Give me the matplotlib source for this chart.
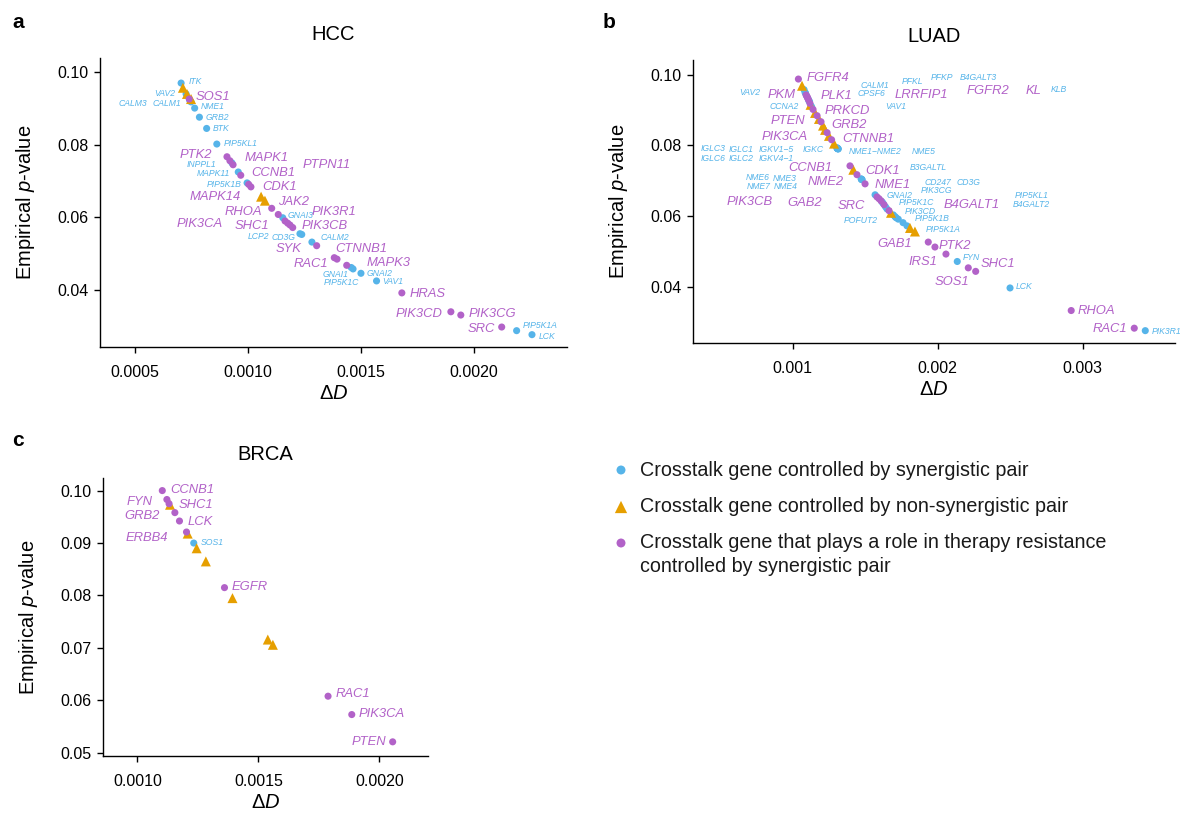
import matplotlib
matplotlib.use("Agg")
import matplotlib.pyplot as plt

plt.rcParams['font.family'] = ['Liberation Sans', 'DejaVu Sans']
plt.rcParams['mathtext.fontset'] = 'custom'
plt.rcParams['mathtext.rm'] = 'Liberation Sans'
plt.rcParams['mathtext.it'] = 'Liberation Sans:italic'

BLUE = '#56B4E9'
ORANGE = '#E69F00'
PURPLE = '#B262C8'

# ---------------- HCC ----------------
HCC_genes = ['ITK', 'VAV2', '', '', '', 'SOS1', 'CALM1', 'CALM3', 'NME1', 'GRB2', 'BTK', 'PIP5KL1',
             'PTK2', 'MAPK1', 'INPPL1', 'PTPN11', 'MAPK11', 'CCNB1', 'PIP5K1B', 'CDK1', 'MAPK14',
             '', '', 'JAK2', 'RHOA', 'GNAI3', 'PIK3R1', 'SHC1', 'PIK3CA', 'PIK3CB', 'LCP2', 'CD3G',
             'CALM2', 'SYK', 'CTNNB1', 'RAC1', 'MAPK3', 'GNAI1', 'PIP5K1C', 'GNAI2', 'VAV1', 'HRAS',
             'PIK3CD', 'PIK3CG', 'SRC', 'PIP5K1A', 'LCK']
HCC_dD = [0.000704, 0.000726, 0.000712, 0.000730, 0.000748, 0.000740, 0.000743, 0.000748, 0.000764,
          0.000785, 0.000817, 0.000862, 0.000907, 0.000920, 0.000929, 0.000934, 0.000957, 0.000968,
          0.000996, 0.001003, 0.001013, 0.001058, 0.001075, 0.001105, 0.001134, 0.001154, 0.001164,
          0.001176, 0.001186, 0.001198, 0.001230, 0.001238, 0.001283, 0.001304, 0.001382, 0.001394,
          0.001437, 0.001457, 0.001465, 0.001500, 0.001569, 0.001681, 0.001898, 0.001942, 0.002123,
          0.002189, 0.002257]
HCC_p = [0.0970, 0.0940, 0.0957, 0.0940, 0.0926, 0.0926, 0.0921, 0.0918, 0.0901, 0.0876, 0.0845,
         0.0802, 0.0767, 0.0756, 0.0750, 0.0745, 0.0725, 0.0716, 0.0695, 0.0691, 0.0684, 0.0657,
         0.0646, 0.0625, 0.0608, 0.0599, 0.0590, 0.0584, 0.0579, 0.0572, 0.0555, 0.0553, 0.0532,
         0.0522, 0.0489, 0.0485, 0.0468, 0.0462, 0.0458, 0.0446, 0.0425, 0.0392, 0.0340, 0.0331,
         0.0298, 0.0288, 0.0277]
HCC_type = ['syn', 'syn', 'non', 'non', 'non', 'res', 'syn', 'syn', 'syn', 'syn', 'syn', 'syn',
            'res', 'res', 'syn', 'res', 'syn', 'res', 'syn', 'res', 'res', 'non', 'non', 'res',
            'res', 'syn', 'res', 'res', 'res', 'res', 'syn', 'syn', 'syn', 'res', 'res', 'res',
            'res', 'syn', 'syn', 'syn', 'syn', 'res', 'res', 'res', 'res', 'syn', 'syn']

# label offsets in pixels (dx right, dy down)
HCC_lab = {'ITK': (14, -1.6), 'SOS1': (24, -2), 'VAV2': (-21.7, 0), 'CALM1': (-23.3, 2.7),
           'CALM3': (-58.3, 1.7), 'NME1': (17.6, -1.3), 'GRB2': (18, 0), 'BTK': (14, 0),
           'PIP5KL1': (23.6, -1), 'PTK2': (-31, -1.3), 'MAPK1': (36.7, -2.3), 'INPPL1': (-30.3, 1.3),
           'PTPN11': (93.7, 0), 'MAPK11': (-25, 1.7), 'CCNB1': (32.6, -2.6), 'PIP5K1B': (-23, 1.7),
           'CDK1': (31.3, 2.4), 'MAPK14': (-36, 9.7), 'JAK2': (21.6, -6), 'RHOA': (-35, -2.7),
           'GNAI3': (17.3, -2), 'PIK3R1': (49, -9.3), 'SHC1': (-36, 2.7), 'PIK3CA': (-90, -0.7),
           'PIK3CB': (32.3, -1.7), 'LCP2': (-41.7, 2.3), 'CD3G': (-18.4, 2.6), 'CALM2': (23, -4.7),
           'SYK': (-28.4, 3.6), 'CTNNB1': (27.4, -8.4), 'RAC1': (-26, 5), 'MAPK3': (41.6, -2),
           'GNAI1': (-15.3, 7.3), 'PIP5K1C': (-11.3, 13.7), 'GNAI2': (19, 0.7), 'VAV1': (16.2, 0.7),
           'HRAS': (25.3, 1), 'PIK3CD': (-31.7, 2), 'PIK3CG': (31.7, -0.7), 'SRC': (-20, 2),
           'PIP5K1A': (23.3, -5), 'LCK': (14.7, 2.3)}

# ---------------- LUAD ----------------
LUAD_genes = ['FGFR4', '', 'VAV2', 'CALM1', 'PFKL', 'PKM', 'PFKP', 'FGFR2', 'KL', 'KLB', 'PLK1',
              'B4GALT3', 'CPSF6', 'LRRFIP1', '', 'CCNA2', 'VAV1', 'PRKCD', '', 'PTEN', '', 'GRB2',
              '', '', 'PIK3CA', '', 'CTNNB1', '',
              'IGLC3', 'IGLC1', 'IGKV1\u22125', 'IGKC', 'IGLC6', 'IGLC2', 'IGKV4\u22121',
              'NME1\u2212NME2', 'NME5',
              'CCNB1', '', 'CDK1', 'NME6', 'NME3', 'NME7', 'NME4', 'B3GALTL', 'NME2',
              'GNAI2', 'PIK3CB', 'NME1', 'GAB2', 'CD247', 'CD3G', 'SRC', 'PIK3CG', 'PIP5K1C',
              'B4GALT1', '', 'PIK3CD', 'PIP5KL1', 'B4GALT2', 'POFUT2', 'PIP5K1B', 'PIP5K1A', '', '',
              'GAB1', 'PTK2', 'IRS1', 'FYN', 'SOS1', 'SHC1', 'LCK', 'RHOA', 'RAC1', 'PIK3R1']
LUAD_dD = [0.001039, 0.001064, 0.001078, 0.001085, 0.001088, 0.001092, 0.001095, 0.001099, 0.001102,
           0.001106, 0.001109, 0.001112, 0.001116, 0.001119, 0.001123, 0.001126, 0.001130, 0.001140,
           0.001154, 0.001168, 0.001181, 0.001195, 0.001209, 0.001223, 0.001237, 0.001250, 0.001268,
           0.001285,
           0.001305, 0.001307, 0.001309, 0.001311, 0.001306, 0.001308, 0.001310, 0.001312, 0.001314,
           0.001395, 0.001418, 0.001443, 0.001472, 0.001474, 0.001475, 0.001477, 0.001478, 0.001499,
           0.001568, 0.001581, 0.001595, 0.001609, 0.001616, 0.001623, 0.001630, 0.001640, 0.001650,
           0.001664, 0.001678, 0.001694, 0.001706, 0.001713, 0.001728, 0.001761, 0.001788, 0.001809,
           0.001843, 0.001935, 0.001981, 0.002057, 0.002135, 0.002211, 0.002262, 0.002499, 0.002921,
           0.003356, 0.003432]
LUAD_p = [0.0988, 0.0969, 0.0958, 0.0950, 0.0948, 0.0943, 0.0941, 0.0938, 0.0935, 0.0932, 0.0929,
          0.0926, 0.0924, 0.0919, 0.0915, 0.0912, 0.0909, 0.0902, 0.0892, 0.0884, 0.0875, 0.0867,
          0.0856, 0.0844, 0.0836, 0.0827, 0.0816, 0.0805,
          0.0793, 0.0792, 0.0792, 0.0791, 0.0792, 0.0791, 0.0791, 0.0790, 0.0790,
          0.0742, 0.0731, 0.0717, 0.0705, 0.0704, 0.0704, 0.0703, 0.0703, 0.0691,
          0.0660, 0.0654, 0.0649, 0.0643, 0.0640, 0.0636, 0.0632, 0.0626, 0.0620, 0.0615, 0.0609,
          0.0603, 0.0598, 0.0595, 0.0591, 0.0581, 0.0572, 0.0566, 0.0556, 0.0526, 0.0512, 0.0492,
          0.0471, 0.0453, 0.0443, 0.0396, 0.0332, 0.0282, 0.0275]
LUAD_type = ['res', 'non', 'syn', 'syn', 'syn', 'res', 'syn', 'res', 'res', 'syn', 'res',
             'syn', 'syn', 'res', 'non', 'syn', 'syn', 'res', 'non', 'res', 'non', 'res',
             'non', 'non', 'res', 'non', 'res', 'non',
             'syn', 'syn', 'syn', 'syn', 'syn', 'syn', 'syn', 'syn', 'syn',
             'res', 'non', 'res', 'syn', 'syn', 'syn', 'syn', 'syn', 'res',
             'syn', 'res', 'res', 'res', 'syn', 'syn', 'res', 'syn', 'syn',
             'res', 'non', 'syn', 'syn', 'syn', 'syn', 'syn', 'syn', 'non', 'non',
             'res', 'res', 'res', 'syn', 'res', 'res', 'syn', 'res', 'res', 'syn']
LUAD_lab = {'FGFR4': (30, -1), 'VAV2': (-54, 2.7), 'CALM1': (70, -6.8), 'PFKL': (107.2, -12),
            'PKM': (-24.3, 0), 'PFKP': (135.2, -17.7), 'FGFR2': (181.3, -6), 'KL': (225.8, -7),
            'KLB': (251, -9.7), 'PLK1': (28.2, -4), 'B4GALT3': (169.3, -23.7), 'CPSF6': (62.2, -7.7),
            'LRRFIP1': (111.7, -8.5), 'CCNA2': (-26.7, 0.7), 'VAV1': (84.5, -0.3),
            'PRKCD': (34.7, 1.2), 'PTEN': (-28.7, 5), 'GRB2': (28, 3), 'PIK3CA': (-42.7, 4.3),
            'CTNNB1': (36.2, -0.7), 'IGLC3': (-124.2, 0.8), 'IGLC1': (-95.8, 0.8),
            'IGKV1\u22125': (-61.5, 0.8), 'IGKC': (-24.8, 0.8), 'IGLC6': (-124.2, 9.8),
            'IGLC2': (-95.8, 9.8), 'IGKV4\u22121': (-61.5, 9.8), 'NME1\u2212NME2': (37.5, 2.2),
            'NME5': (85.2, 2.2), 'CCNB1': (-39.3, 2.3), 'CDK1': (26, -3.7), 'NME6': (-103.2, -1.2),
            'NME3': (-76.5, -1.2), 'NME7': (-103.2, 7.2), 'NME4': (-76.5, 7.2),
            'B3GALTL': (66, -12), 'NME2': (-39, -1.7), 'GNAI2': (24, 0.3), 'PIK3CB': (-127.7, 4.7),
            'NME1': (14, -13.7), 'GAB2': (-76, 2.3), 'CD247': (56.3, -19.2), 'CD3G': (85.3, -20.7),
            'SRC': (-33, 1), 'PIK3CG': (51.2, -16), 'PIP5K1C': (29.7, -6.2), 'B4GALT1': (82.7, -6),
            'PIK3CD': (26.7, -3.6), 'PIP5KL1': (136.7, -21), 'B4GALT2': (135.7, -13),
            'POFUT2': (-37.6, 1), 'PIP5K1B': (28.7, -3.7), 'PIP5K1A': (36.3, 3.3),
            'GAB1': (-33.3, 2), 'PTK2': (20, -1.3), 'IRS1': (-22.7, 8), 'FYN': (14.4, -4.4),
            'SOS1': (-16.6, 14.3), 'SHC1': (22.6, -7.4), 'LCK': (14.3, -1.3), 'RHOA': (25.4, 0),
            'RAC1': (-24.3, 1), 'PIK3R1': (21.4, 1.3)}

# ---------------- BRCA ----------------
BRCA_genes = ['CCNB1', 'FYN', 'SHC1', '', 'GRB2', 'LCK', 'ERBB4', '', 'SOS1', '', '', 'EGFR', '',
              '', '', 'RAC1', 'PIK3CA', 'PTEN']
BRCA_dD = [0.001103, 0.001122, 0.001131, 0.001135, 0.001155, 0.001174, 0.001203, 0.001208, 0.001233,
           0.001245, 0.001283, 0.001360, 0.001393, 0.001539, 0.001560, 0.001788, 0.001886, 0.002055]
BRCA_p = [0.1000, 0.0983, 0.0975, 0.0973, 0.0958, 0.0942, 0.0921, 0.0918, 0.0900, 0.0890, 0.0865,
          0.0815, 0.0795, 0.0716, 0.0706, 0.0608, 0.0573, 0.0521]
BRCA_type = ['res', 'res', 'res', 'non', 'res', 'res', 'res', 'non', 'syn', 'non', 'non', 'res',
             'non', 'non', 'non', 'res', 'res', 'res']
BRCA_lab = {'CCNB1': (30, -0.7), 'FYN': (-27.4, 2.7), 'SHC1': (27, 1), 'GRB2': (-33, 3.7),
            'LCK': (20.7, 1.3), 'ERBB4': (-39.8, 6.2), 'SOS1': (19, -1), 'EGFR': (24.7, -0.6),
            'RAC1': (24.7, -2.4), 'PIK3CA': (30.3, -0.7), 'PTEN': (-23.4, 0)}

legend_types = ['syn', 'non', 'res']
legend_labels = ['Crosstalk gene controlled by synergistic pair',
                 'Crosstalk gene controlled by non-synergistic pair',
                 'Crosstalk gene that plays a role in therapy resistance\ncontrolled by synergistic pair']

W, H = 1184, 815
fig = plt.figure(figsize=(W / 100, H / 100), dpi=100)

STYLE = {'syn': (BLUE, 'o', 26), 'non': (ORANGE, '^', 52), 'res': (PURPLE, 'o', 26)}


def add_ax(l, t, r, b):
    return fig.add_axes([l / W, 1 - b / H, (r - l) / W, (b - t) / H])


def draw(ax, genes, xs, ys, types, labs, xlim, ylim, xticks, xfmt, yticks, title):
    for kind in ['syn', 'non', 'res']:
        col, mk, s = STYLE[kind]
        px = [x for x, t in zip(xs, types) if t == kind]
        py = [y for y, t in zip(ys, types) if t == kind]
        ax.scatter(px, py, s=s, marker=mk, color=col, edgecolors='none',
                   zorder=3 if kind != 'res' else 4)
    for g, x, y, t in zip(genes, xs, ys, types):
        if not g or g not in labs:
            continue
        dx, dy = labs[g]
        col = PURPLE if t == 'res' else BLUE
        fs = 9.4 if t == 'res' else 6.2
        ax.annotate(g, (x, y), xytext=(dx, -dy), textcoords='offset pixels', ha='center',
                    va='center', fontsize=fs, style='italic', color=col, zorder=5,
                    annotation_clip=False)
    ax.set_xlim(*xlim)
    ax.set_ylim(*ylim)
    ax.set_xticks(xticks)
    ax.set_xticklabels([xfmt % v for v in xticks])
    ax.set_yticks(yticks)
    ax.set_yticklabels(['%.2f' % v for v in yticks])
    for sp in ['top', 'right']:
        ax.spines[sp].set_visible(False)
    for sp in ['left', 'bottom']:
        ax.spines[sp].set_linewidth(1.0)
    ax.tick_params(labelsize=11.5, length=4, width=1.0, colors='black')
    ax.tick_params(axis='x', pad=9)
    ax.tick_params(axis='y', pad=4)
    ax.set_xlabel(r'$\Delta D$', fontsize=14.5, labelpad=3)
    ax.set_ylabel(r'Empirical $p$-value', fontsize=14.5, labelpad=15)
    ax.set_title(title, fontsize=14.5, pad=13)


axA = add_ax(100, 58, 567, 347)
draw(axA, HCC_genes, HCC_dD, HCC_p, HCC_type, HCC_lab, (0.000345, 0.002412), (0.0243, 0.1039),
     [0.0005, 0.0010, 0.0015, 0.0020], '%.4f', [0.04, 0.06, 0.08, 0.10], 'HCC')

axB = add_ax(693, 60, 1175, 343)
draw(axB, LUAD_genes, LUAD_dD, LUAD_p, LUAD_type, LUAD_lab, (0.000312, 0.003637), (0.0240, 0.1042),
     [0.001, 0.002, 0.003], '%.3f', [0.04, 0.06, 0.08, 0.10], 'LUAD')

axC = add_ax(103, 478, 428, 756)
draw(axC, BRCA_genes, BRCA_dD, BRCA_p, BRCA_type, BRCA_lab, (0.000858, 0.002201), (0.0494, 0.1024),
     [0.0010, 0.0015, 0.0020], '%.4f', [0.05, 0.06, 0.07, 0.08, 0.09, 0.10], 'BRCA')

for lab, x, y in [('a', 12, 22), ('b', 603, 22), ('c', 12, 440)]:
    fig.text(x / W, 1 - y / H, lab, fontsize=15, fontweight='bold', ha='left', va='center')

# legend drawn in a pixel-space overlay
leg = fig.add_axes([0, 0, 1, 1])
leg.set_xlim(0, W)
leg.set_ylim(H, 0)
leg.axis('off')
key_rows = [470, 507, 543]
for kind, label, yk in zip(legend_types, legend_labels, key_rows):
    col, mk, s = STYLE[kind]
    leg.scatter([621], [yk], s=s * 1.6 if kind != 'non' else s * 1.5, marker=mk, color=col,
                edgecolors='none')
    leg.text(640, yk, label, fontsize=14.2, ha='left', va='top' if '\n' in label else 'center',
             color='#1a1a1a', linespacing=1.2,
             transform=leg.transData) if False else None
    lines = label.split('\n')
    for i, ln in enumerate(lines):
        leg.text(640, yk + i * 24, ln, fontsize=14.2, ha='left', va='center', color='#1a1a1a')

fig.savefig('out.png', dpi=100)
